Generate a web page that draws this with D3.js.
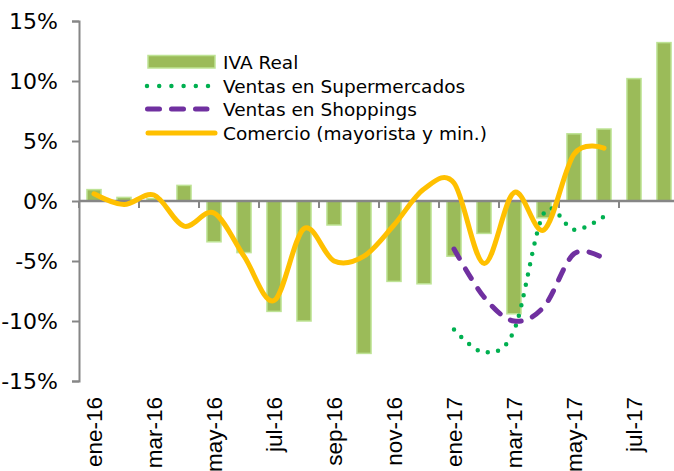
<!DOCTYPE html>
<html>
<head>
<meta charset="utf-8">
<script src="https://cdn.jsdelivr.net/npm/d3@7"></script>
<style>
  html, body { margin: 0; padding: 0; background: #fff; }
  svg { display: block; }
</style>
</head>
<body>
<svg id="chart" width="674" height="471"></svg>
<script>
const categories = ["ene-16","feb-16","mar-16","abr-16","may-16","jun-16","jul-16","ago-16","sep-16","oct-16","nov-16","dic-16",
                    "ene-17","feb-17","mar-17","abr-17","may-17","jun-17","jul-17","ago-17"];
const ivaReal = [0.95, 0.3, 0.2, 1.3, -3.4, -4.3, -9.2, -10.0, -2.0, -12.7, -6.7, -6.9, -4.6, -2.7, -9.4, -1.4, 5.6, 6.0, 10.2, 13.2];
const comercio = [0.6, -0.3, 0.5, -2.1, -1.0, -4.6, -8.3, -2.3, -5.0, -4.6, -2.0, 1.0, 1.5, -5.2, 0.7, -2.4, 3.9, 4.4];
const superCats = ["ene-17","feb-17","mar-17","abr-17","may-17","jun-17"];
const supermercados = [-10.7, -12.6, -10.8, -1.0, -2.4, -1.3];
const shoppings = [-4.0, -8.0, -10.0, -8.8, -4.4, -4.8];
const yTicks = [15, 10, 5, 0, -5, -10, -15];
const xLabelCats = ["ene-16","mar-16","may-16","jul-16","sep-16","nov-16","ene-17","mar-17","may-17","jul-17"];
const legendLabels = ["IVA Real", "Ventas en Supermercados", "Ventas en Shoppings", "Comercio (mayorista y min.)"];

const svg = d3.select("#chart");
const axisX0 = 79, plotTop = 21, plotBottom = 381;
const pad = 0.53;
const x = d3.scaleBand().domain(categories).range([axisX0, axisX0 + 600])
  .paddingInner(pad).paddingOuter(pad / 2);
const y = d3.scaleLinear().domain([-15, 15]).range([plotBottom, plotTop]);
const cx = c => x(c) + x.bandwidth() / 2;
const halfGap = x.step() * pad / 2;

const axisColor = "#868686";

// bars
svg.append("g").selectAll("rect").data(categories).join("rect")
  .attr("x", c => x(c))
  .attr("width", x.bandwidth())
  .attr("y", (c, i) => y(Math.max(0, ivaReal[i])))
  .attr("height", (c, i) => Math.abs(y(ivaReal[i]) - y(0)))
  .attr("fill", "#9BBB59")
  .attr("stroke", "#BEE395")
  .attr("stroke-width", 1.5);

// y axis
const yAxis = d3.axisLeft(y).tickValues(yTicks).tickSize(7).tickFormat(d => d + "%");
const gy = svg.append("g").attr("transform", `translate(${axisX0},0)`).call(yAxis);
gy.select(".domain").attr("stroke", axisColor).attr("stroke-width", 2);
gy.selectAll(".tick line").attr("stroke", axisColor).attr("stroke-width", 2);
gy.selectAll(".tick text").attr("x", -21).attr("fill", "#000")
  .style("font-family", "'DejaVu Sans', sans-serif").style("font-size", "22px");

// x axis at zero
const xg = svg.append("g");
xg.append("line").attr("x1", axisX0).attr("x2", 674).attr("y1", y(0)).attr("y2", y(0))
  .attr("stroke", axisColor).attr("stroke-width", 2.5);
xg.selectAll("line.tk").data(categories.filter((c, i) => i % 2 === 0)).join("line")
  .attr("class", "tk")
  .attr("x1", c => x(c) - halfGap).attr("x2", c => x(c) - halfGap)
  .attr("y1", y(0)).attr("y2", y(0) + 7)
  .attr("stroke", axisColor).attr("stroke-width", 2);
xg.selectAll("text").data(xLabelCats).join("text")
  .attr("transform", c => `translate(${cx(c)},397) rotate(-90)`)
  .attr("text-anchor", "end")
  .attr("dy", "0.36em")
  .attr("fill", "#000")
  .style("font-family", "'Liberation Sans', Arial, sans-serif")
  .style("font-size", "22.5px")
  .text(c => c);

// lines
const line = d3.line().curve(d3.curveCatmullRom.alpha(0));
const comPts = comercio.map((v, i) => [cx(categories[i]), y(v)]);
const supPts = supermercados.map((v, i) => [cx(superCats[i]), y(v)]);
const shoPts = shoppings.map((v, i) => [cx(superCats[i]), y(v)]);

svg.append("path").attr("d", line(supPts)).attr("fill", "none")
  .attr("stroke", "#00B050").attr("stroke-width", 4.5)
  .attr("stroke-linecap", "round").attr("stroke-dasharray", "0 10.5");
svg.append("path").attr("d", line(shoPts)).attr("fill", "none")
  .attr("stroke", "#7030A0").attr("stroke-width", 5)
  .attr("stroke-linecap", "round").attr("stroke-dasharray", "11 12");
svg.append("path").attr("d", line(comPts)).attr("fill", "none")
  .attr("stroke", "#FFC000").attr("stroke-width", 5)
  .attr("stroke-linecap", "round").attr("stroke-linejoin", "round");

// legend
const lg = svg.append("g");
const rowsY = [62, 86, 109, 133];
lg.append("rect").attr("x", 148).attr("y", 55.5).attr("width", 67).attr("height", 12.5)
  .attr("fill", "#9BBB59").attr("stroke", "#BEE395").attr("stroke-width", 1.5);
lg.append("line").attr("x1", 147).attr("x2", 209).attr("y1", rowsY[1]).attr("y2", rowsY[1])
  .attr("stroke", "#00B050").attr("stroke-width", 4.5).attr("stroke-linecap", "round")
  .attr("stroke-dasharray", "0 12.2");
lg.append("line").attr("x1", 147.5).attr("x2", 207).attr("y1", rowsY[2]).attr("y2", rowsY[2])
  .attr("stroke", "#7030A0").attr("stroke-width", 5).attr("stroke-linecap", "round")
  .attr("stroke-dasharray", "12 12");
lg.append("line").attr("x1", 148).attr("x2", 215).attr("y1", rowsY[3]).attr("y2", rowsY[3])
  .attr("stroke", "#FFC000").attr("stroke-width", 5).attr("stroke-linecap", "round");
lg.selectAll("text").data(legendLabels).join("text")
  .attr("x", 223).attr("y", (d, i) => rowsY[i]).attr("dy", "0.36em")
  .attr("fill", "#000")
  .style("font-family", "'DejaVu Sans', sans-serif").style("font-size", "18.5px")
  .text(d => d);
</script>
</body>
</html>
